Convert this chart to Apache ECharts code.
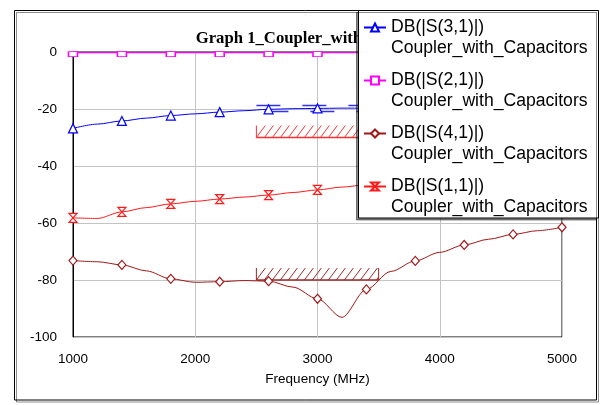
<!DOCTYPE html>
<html><head><meta charset="utf-8">
<script src="https://cdn.jsdelivr.net/npm/echarts@6/dist/echarts.min.js"></script>
<style>html,body{margin:0;padding:0;background:#fff}#c{width:600px;height:405px}</style>
</head><body><div id="c"></div>
<script>
// ---- data ----
const freq = [1000,1200,1400,1600,1800,2000,2200,2400,2600,2800,3000,3200,3400,3600,3800,4000,4200,4400,4600,4800,5000];
const s31 = [-26.8,-25.3,-24.2,-23.2,-22.3,-21.7,-21.1,-20.6,-20.1,-19.9,-19.8,-19.7,-19.7,-19.8,-19.9,-20.1,-20.3,-20.6,-21.0,-21.4,-21.9];
const s21 = [-0.2,-0.2,-0.2,-0.2,-0.2,-0.2,-0.2,-0.2,-0.2,-0.2,-0.2,-0.2,-0.2,-0.2,-0.2,-0.2,-0.2,-0.2,-0.2,-0.2,-0.2];
const s41 = [-73.2,-73.6,-74.7,-76.8,-79.6,-80.8,-80.6,-80.2,-80.4,-82.5,-86.6,-93.1,-83.3,-77.0,-73.3,-70.3,-67.7,-65.7,-64.0,-62.7,-61.5];
const s11 = [-58.2,-58.4,-56.1,-54.6,-53.3,-52.4,-51.6,-50.9,-50.2,-49.3,-48.4,-47.4,-46.6,-45.8,-45.0,-44.3,-43.6,-43.0,-42.5,-42.0,-41.5];
const seriesNames = ['DB(|S(3,1)|)','DB(|S(2,1)|)','DB(|S(4,1)|)','DB(|S(1,1)|)'];
const legendSubline = 'Coupler_with_Capacitors';
const titleText = 'Graph 1_Coupler_with_Capacitors';
const xAxisName = 'Frequency (MHz)';
const xRange = [1000, 5000, 1000];
const yRange = [-100, 0, 20];
// spec limits: [startFreq, endFreq, dB]
const s11Spec = [2500, 3500, -30];
const s41Spec = [2500, 3500, -80];
const s31SpecUpper = [2500, 3500, -18.8];
const s31SpecLower = [2500, 3500, -20.9];

// ---- helpers ----
const pairs = arr => freq.map((f, i) => [f, arr[i]]);
const markEvery2 = size => (v, p) => (p.dataIndex % 2 === 0 ? size : 0);

function hatchRender(params, api) {
  const a = api.coord([api.value(0), api.value(2)]);
  const b = api.coord([api.value(1), api.value(2)]);
  const color = api.visual('color');
  const h = 12, step = 8, run = 9;
  const children = [
    {type:'line', shape:{x1:a[0], y1:a[1], x2:b[0], y2:b[1]}, style:{stroke:color, lineWidth:1.6}},
    {type:'line', shape:{x1:a[0], y1:a[1]-h, x2:a[0], y2:a[1]}, style:{stroke:color, lineWidth:1}},
    {type:'line', shape:{x1:b[0], y1:b[1]-h, x2:b[0], y2:b[1]}, style:{stroke:color, lineWidth:1}}
  ];
  for (let x = a[0]; x < b[0] - 1; x += step) {
    let x2 = x + run, y2 = a[1] - h;
    if (x2 > b[0]) { y2 = a[1] - h * (b[0] - x) / run; x2 = b[0]; }
    children.push({type:'line', shape:{x1:x, y1:a[1], x2:x2, y2:y2}, style:{stroke:color, lineWidth:1}});
  }
  return {type:'group', children};
}
function dashRender(offset) {
  return function (params, api) {
    const a = api.coord([api.value(0), api.value(2)]);
    const b = api.coord([api.value(1), api.value(2)]);
    return {type:'line', shape:{x1:a[0], y1:a[1], x2:b[0], y2:b[1]},
      style:{stroke:api.visual('color'), lineWidth:1.5, lineDash:[24,22], lineDashOffset:offset}};
  };
}

const chart = echarts.init(document.getElementById('c'), null, {renderer:'canvas'});
const font = 'Liberation Sans, Arial, sans-serif';
chart.setOption({
  animation: false,
  backgroundColor: '#fff',
  title: {
    text: titleText, left: 317, top: 25, textAlign: 'center', z: 2,
    textStyle: {fontFamily: 'Liberation Serif, Times New Roman, serif', fontWeight: 'bold', fontSize: 16.7, color: '#000'}
  },
  grid: {left: 73, right: 38, top: 52, bottom: 68, show: true, borderColor: '#000', borderWidth: 1, backgroundColor: 'transparent'},
  xAxis: {
    type: 'value', min: xRange[0], max: xRange[1], interval: xRange[2],
    name: xAxisName, nameLocation: 'middle', nameGap: 35,
    nameTextStyle: {fontFamily: font, fontSize: 13.5, color: '#000'},
    axisLine: {show: true, lineStyle: {color: '#000', width: 1}},
    axisTick: {show: false},
    axisLabel: {fontFamily: font, fontSize: 13.5, color: '#000', margin: 15, formatter: v => String(v)},
    splitLine: {show: true, lineStyle: {color: '#c4c4c4', width: 1}}
  },
  yAxis: {
    type: 'value', min: yRange[0], max: yRange[1], interval: yRange[2],
    axisLine: {show: true, lineStyle: {color: '#000', width: 1}},
    axisTick: {show: false},
    axisLabel: {fontFamily: font, fontSize: 13.5, color: '#000', margin: 16},
    splitLine: {show: true, lineStyle: {color: '#c4c4c4', width: 1}}
  },
  legend: {
    show: true, orient: 'vertical', left: 363, top: -4, padding: 0,
    itemWidth: 22, itemHeight: 10, itemGap: -10, z: 60,
    data: seriesNames,
    formatter: n => '\n' + n + '\n' + legendSubline,
    selectedMode: false,
    textStyle: {fontFamily: font, fontSize: 17.6, color: '#000', lineHeight: 21}
  },
  graphic: [
    {type: 'rect', z: 1, shape: {x: 14.5, y: 10.5, width: 582, height: 389.5},
     style: {fill: 'none', stroke: '#000', lineWidth: 1, shadowColor: 'rgba(0,0,0,0.45)', shadowOffsetX: 2, shadowOffsetY: 2, shadowBlur: 0}},
    {type: 'rect', z: 50, shape: {x: 358.5, y: 10.5, width: 240, height: 207.5},
     style: {fill: '#fff', stroke: '#000', lineWidth: 1, shadowColor: 'rgba(0,0,0,0.45)', shadowOffsetX: -2, shadowOffsetY: 2, shadowBlur: 0}}
  ],
  series: [
    {name: seriesNames[0], type: 'line', data: pairs(s31), z: 5, smooth: 0.3, smoothMonotone: 'x',
     symbol: 'triangle', symbolSize: markEvery2([9, 9]),
     lineStyle: {color: '#0000ff', width: 1},
     itemStyle: {color: '#fff', borderColor: '#0000ff', borderWidth: 1.2}},
    {name: seriesNames[1], type: 'line', data: pairs(s21), z: 5,
     symbol: 'rect', symbolSize: markEvery2([9, 5]), symbolOffset: [0, 1.6],
     lineStyle: {color: '#ff00ff', width: 1.3},
     itemStyle: {color: '#fff', borderColor: '#ff00ff', borderWidth: 1.2}},
    {name: seriesNames[2], type: 'line', data: pairs(s41), z: 5, smooth: 0.3, smoothMonotone: 'x',
     symbol: 'diamond', symbolSize: markEvery2([8, 9]),
     lineStyle: {color: '#a01818', width: 1},
     itemStyle: {color: '#fff', borderColor: '#a01818', borderWidth: 1.2}},
    {name: seriesNames[3], type: 'line', data: pairs(s11), z: 5, smooth: 0.3, smoothMonotone: 'x',
     symbol: 'path://M0,0 L10,0 L0,10 L10,10 Z', symbolSize: markEvery2([8, 9]),
     lineStyle: {color: '#ff1a1a', width: 1},
     itemStyle: {color: '#fff', borderColor: '#ff1a1a', borderWidth: 1.2}},
    {name: 's11spec', type: 'custom', renderItem: hatchRender, data: [s11Spec], z: 4,
     itemStyle: {color: '#ff3030'}, encode: {x: [0, 1], y: 2}},
    {name: 's41spec', type: 'custom', renderItem: hatchRender, data: [s41Spec], z: 4,
     itemStyle: {color: '#a02828'}, encode: {x: [0, 1], y: 2}},
    {name: 's31specU', type: 'custom', renderItem: dashRender(0), data: [s31SpecUpper], z: 4,
     itemStyle: {color: '#3030ff'}, encode: {x: [0, 1], y: 2}},
    {name: 's31specL', type: 'custom', renderItem: dashRender(-8), data: [s31SpecLower], z: 4,
     itemStyle: {color: '#3030ff'}, encode: {x: [0, 1], y: 2}}
  ]
});
</script>
</body></html>
